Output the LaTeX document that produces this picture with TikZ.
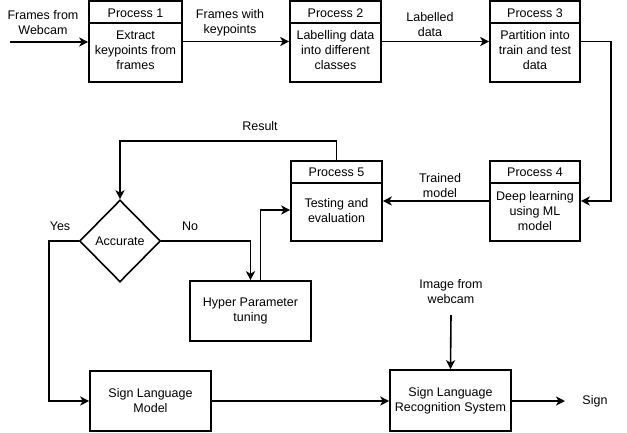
\documentclass[tikz,border=0pt]{standalone}
\usepackage{fontspec}
\setmainfont{Liberation Sans}
\usetikzlibrary{arrows.meta,shapes.geometric}
\tikzset{
  every node/.style={font=\fontsize{12.5}{15}\selectfont, align=center},
  procbox/.style={draw, line width=1.6pt, inner sep=0pt},
  plainbox/.style={draw, line width=1.6pt, inner sep=0pt},
  lbl/.style={inner sep=0pt},
  arr/.style={line width=1.6pt, -{Stealth[length=9pt,width=9pt,inset=2.5pt]}},
  ln/.style={line width=1.6pt},
}
\begin{document}
\begin{tikzpicture}[x=1pt,y=-1pt]
\useasboundingbox (0,0) rectangle (627,432);
% process boxes
\node[procbox, minimum width=93pt, minimum height=81pt] (p1) at (135.5,41.5) {};
\node[procbox, minimum width=91pt, minimum height=81pt] (p2) at (335.5,41.5) {};
\node[procbox, minimum width=90pt, minimum height=81pt] (p3) at (535,41.5) {};
\node[procbox, minimum width=90pt, minimum height=80pt] (p4) at (535,201) {};
\node[procbox, minimum width=91pt, minimum height=80pt] (p5) at (336.5,201) {};
\foreach \b in {p1,p2,p3,p4,p5}{
  \draw[ln] ([yshift=-23pt]\b.north west) -- ([yshift=-23pt]\b.north east);
}
\node[lbl] (p1h) at (135.5,13) {Process 1};
\node[lbl] (p2h) at (335.5,13) {Process 2};
\node[lbl] (p3h) at (535,13) {Process 3};
\node[lbl] (p4h) at (535,172.5) {Process 4};
\node[lbl] (p5h) at (336.5,172.5) {Process 5};
\node[lbl] (p1t) at (135.5,50.5) {Extract\\keypoints from\\frames};
\node[lbl] (p2t) at (335.5,50.5) {Labelling data\\into different\\classes};
\node[lbl] (p3t) at (535,50.5) {Partition into\\train and test\\data};
\node[lbl] (p4t) at (535,211) {Deep learning\\using ML\\model};
\node[lbl] (p5t) at (336.5,210.5) {Testing and\\evaluation};
% other boxes
\node[diamond, draw, line width=1.6pt, inner sep=0pt, minimum width=81pt, minimum height=82pt] (dec) at (120,241) {Accurate};
\node[plainbox, minimum width=121pt, minimum height=60pt] (hp) at (250.5,311) {Hyper Parameter\\tuning};
\node[plainbox, minimum width=121pt, minimum height=60pt] (slm) at (150.5,401) {Sign Language\\Model};
\node[plainbox, minimum width=121pt, minimum height=61pt] (slrs) at (450.5,400.5) {Sign Language\\Recognition System};
% labels
\node[lbl] (lfw) at (43,23) {Frames from\\Webcam};
\node[lbl] (lfk) at (230,23) {Frames with\\keypoints};
\node[lbl] (lld) at (430,25) {Labelled\\data};
\node[lbl] (ltm) at (440,186) {Trained\\model};
\node[lbl] (lres) at (260,126) {Result};
\node[lbl] (lyes) at (60,226) {Yes};
\node[lbl] (lno) at (190,226) {No};
\node[lbl] (limg) at (451,292) {Image from\\webcam};
\node[lbl] (lsign) at (595,401) {Sign};
% coordinates
\coordinate (fin) at (10,42);
\coordinate (rside) at (611,42);
\coordinate (rtop) at (0,141);
\coordinate (imgstart) at (451,315);
\coordinate (signend) at (565,401);
% connectors
\draw[arr] (fin) -- (fin -| p1.west);
\draw[arr] (p1) -- (p2);
\draw[arr] (p2) -- (p3);
\draw[arr] (p3.east) -| (rside |- p4.east) -- (p4.east);
\draw[arr] (p4) -- (p5);
\draw[arr] (p5.north) -- (p5.north |- rtop) -| (dec.north);
\draw[arr] (dec.east) -| (hp.north);
\draw[arr] ([xshift=10pt]hp.north) |- ([yshift=-9pt]p5.west);
\draw[arr] (dec.west) -- ++(-30,0) |- (slm.west);
\draw[arr] (slm.east) -- (slm.east -| slrs.west);
\draw[arr] (imgstart) -- (slrs.north);
\draw[arr] (slrs.east |- signend) -- (signend);
\end{tikzpicture}
\end{document}
